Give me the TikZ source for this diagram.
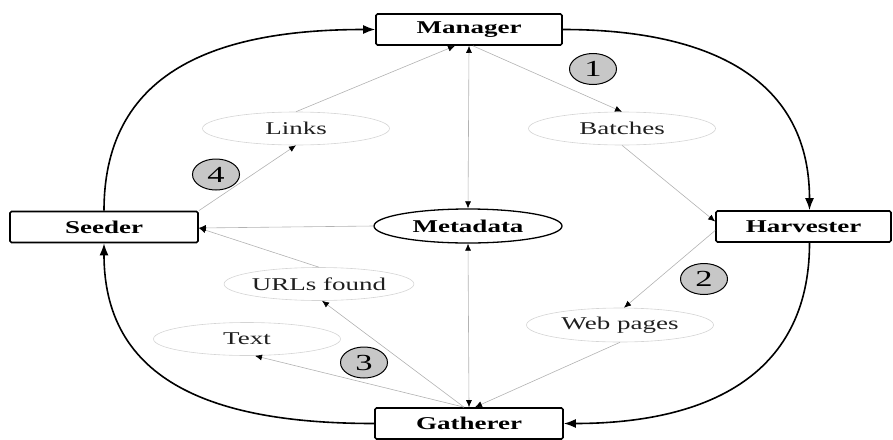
\documentclass[tikz,border=0pt]{standalone}
\usepackage{fontspec}
\setmainfont{Liberation Serif}[FakeStretch=1.5]
\usetikzlibrary{shapes.geometric,arrows.meta}

\begin{document}
\begin{tikzpicture}
[x=1pt, y=-1pt,
every node/.style={inner sep=0pt, font=\fontsize{18}{21}\selectfont},
agent/.style={draw, line width=1.7pt, rounded corners=1.5pt, minimum height=31pt,
  font=\fontsize{18}{21}\selectfont\bfseries},
data/.style={draw=black!17, ellipse, line width=0.6pt, minimum width=187pt,
  minimum height=33pt, text=black!88},
stage/.style={draw, ellipse, line width=1pt, fill=black!22, minimum width=47pt,
  minimum height=31pt, font=\fontsize{23}{26}\selectfont},
flow/.style={draw=black!30, line width=0.6pt, >={Latex[color=black, length=7pt, width=6pt]}},
cycle/.style={line width=1.6pt, ->, >={Latex[length=12pt, width=9pt]}, looseness=1.15}]

\useasboundingbox (0,0) rectangle (893,439);

% agents
\node[agent, minimum width=186pt] (manager) at (469,29.5) {Manager};
\node[agent, minimum width=188pt] (seeder) at (104,227) {Seeder};
\node[agent, minimum width=175pt] (harvester) at (803.5,226.5) {Harvester};
\node[agent, minimum width=188pt] (gatherer) at (469,423.5) {Gatherer};

\node[draw, ellipse, line width=1.3pt, minimum width=188pt, minimum height=34pt,
  font=\fontsize{18}{21}\selectfont\bfseries] (metadata) at (468,226) {Metadata};

% data passed round
\node[data] (links) at (296,128.5) {Links};
\node[data] (batches) at (622,128.5) {Batches};
\node[data] (urls) at (319,284) {URLs found};
\node[data] (txt) at (247,339) {Text};
\node[data, minimum height=34pt] (pages) at (620,325) {Web pages};

% steps
\node[stage] (s1) at (593,69) {1};
\node[stage] (s2) at (704,279) {2};
\node[stage] (s3) at (364,362.5) {3};
\node[stage] (s4) at (216,174.5) {4};

\draw[cycle] (seeder.north) to[out=90, in=180] (manager.west);
\draw[cycle] (manager.east) to[out=0, in=90] ([xshift=6pt]harvester.north);
\draw[cycle] ([xshift=6pt]harvester.south) to[out=-90, in=0] (gatherer.east);
\draw[cycle] (gatherer.west) to[out=180, in=-90] (seeder.south);

\draw[flow, ->] ([xshift=4pt]manager.south) -- (batches.north);
\draw[flow, ->] (batches.south) -- ([yshift=5pt]harvester.west);
\draw[flow, ->] ([yshift=-4pt]harvester.west) -- ([xshift=4pt]pages.north);
\draw[flow, ->] (pages.south) -- ([xshift=6pt]gatherer.north);
\draw[flow, ->] ([xshift=-5pt]gatherer.north) -- ([xshift=3pt]urls.south);
\draw[flow, ->] ([xshift=-5pt]gatherer.north) -- ([xshift=8pt]txt.south);
\draw[flow, ->] (urls.north) -- ([yshift=-1pt]seeder.east);
\draw[flow, ->] (metadata.west) -- ([yshift=-1pt]seeder.east);
\draw[flow, ->] (seeder.north east) -- (links.south);
\draw[flow, ->] (links.north) -- ([xshift=-14pt]manager.south);
\draw[flow, <->] (manager.south) -- (metadata.north);
\draw[flow, <->] (metadata.south) -- (gatherer.north);
\end{tikzpicture}
\end{document}
